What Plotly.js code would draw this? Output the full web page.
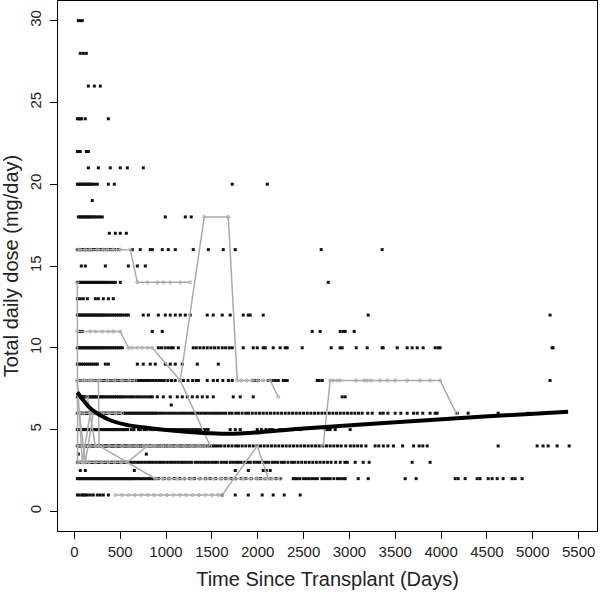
<!DOCTYPE html>
<html><head><meta charset="utf-8">
<script src="https://cdn.plot.ly/plotly-3.0.1.min.js"></script>
<style>html,body{margin:0;padding:0;background:#fff}#chart{width:600px;height:592px}</style>
</head><body><div id="chart"></div>
<script>
// ---- observed doses (x = days since transplant) per dose level ----
const dose1Days = [33,55,87,98,120,142,174,207,251,283,316,371,1613,1755,1897,2049,2169,2289,2463];
const dose2Days = [33,50,65,80,95,110,125,140,155,170,185,200,215,230,245,260,275,290,305,320,335,350,365,380,395,410,425,440,455,470,485,500,515,530,545,560,575,590,605,620,640,660,680,700,720,740,760,780,800,820,840,860,883,920,980,1030,1090,1150,1200,1260,1310,1370,1430,1480,1540,1600,1650,1710,1760,1820,1870,1930,1990,2030,2080,2140,2200,2250,2387,2410,2430,2460,2500,2530,2560,2590,2620,2650,2700,2730,2760,2790,2830,2870,2900,2930,2954,3096,3205,3608,3728,4153,4186,4262,4393,4425,4513,4556,4611,4676,4774,4807,4883];
const dose25Days = [65,120,654,1755,1897,2060,2093,2136];
const dose3Days = [33,55,76,98,120,142,163,185,207,229,251,273,295,316,338,360,382,404,425,447,469,490,512,534,556,578,600,620,650,680,710,740,770,800,830,860,890,920,950,980,1010,1040,1070,1100,1130,1160,1190,1220,1250,1280,1320,1350,1380,1410,1440,1470,1500,1530,1560,1600,1630,1660,1700,1730,1760,1790,1820,1860,1890,1920,1960,1990,2020,2060,2090,2120,2160,2190,2220,2260,2290,2330,2370,2400,2440,2480,2520,2560,2600,2640,2680,2720,2760,2800,2850,2900,2950,2976,3063,3150,3215,3684,3880];
const dose35Days = [44,785];
const dose4Days = [33,50,65,80,95,110,125,140,155,170,185,200,215,230,245,260,275,290,305,320,335,350,365,380,395,410,425,440,455,470,485,500,520,540,560,580,600,620,640,660,680,700,720,740,760,780,800,820,840,860,880,900,925,950,975,1000,1025,1050,1075,1100,1125,1150,1175,1200,1225,1250,1275,1300,1330,1360,1390,1420,1450,1480,1510,1540,1570,1600,1640,1680,1720,1760,1790,1830,1870,1910,1950,1990,2030,2070,2110,2150,2190,2230,2270,2310,2350,2390,2430,2470,2510,2550,2590,2630,2670,2710,2750,2790,2830,2870,2910,2960,3010,3050,3090,3130,3180,3280,3320,3370,3420,3480,3580,3700,3760,3800,3848,4622,5047,5112,5167,5265,5396];
const dose5Days = [33,50,65,80,95,110,125,140,155,170,185,200,215,230,245,260,275,290,305,320,335,350,365,380,395,410,425,440,455,470,485,500,515,530,545,560,580,620,650,700,720,760,790,830,860,890,920,950,980,1010,1040,1070,1100,1130,1160,1190,1220,1250,1280,1310,1340,1370,1400,1430,1460,1700,1755,1809,1995,2040,2090,2130,2158,2245,2300,2380,2463,2736,2760,2790,2845,3008];
const dose6Days = [33,50,65,80,95,110,125,140,155,170,185,200,215,230,245,260,275,290,305,320,335,350,365,380,395,410,425,440,455,470,485,500,520,540,560,580,600,620,640,660,680,700,720,740,760,780,800,820,840,860,880,900,930,960,990,1020,1050,1080,1110,1140,1170,1200,1230,1260,1290,1320,1350,1380,1410,1440,1470,1500,1530,1560,1590,1620,1650,1690,1720,1760,1790,1830,1870,1900,1940,1980,2020,2060,2100,2140,2180,2220,2260,2300,2340,2380,2420,2460,2500,2540,2580,2620,2660,2700,2740,2780,2820,2860,2900,2940,2980,3020,3060,3100,3139,3200,3248,3335,3368,3420,3499,3560,3630,3700,3740,3800,3880,3935,3957,4175,4295,4622,4949];
const dose65Days = [1057];
const dose7Days = [33,50,65,80,95,110,125,140,155,170,185,200,215,230,245,260,275,290,305,320,340,360,380,400,420,440,460,480,500,520,545,570,600,625,650,680,710,740,770,800,830,850,905,970,1046,1123,1177,1232,1286,1341,1395,1450,1515,1733,1809,1951,2921,2954];
const dose8Days = [33,50,65,80,95,110,125,140,155,170,185,200,215,230,245,260,275,290,305,320,340,360,380,400,420,440,460,480,500,520,540,560,580,600,620,640,660,680,700,720,740,760,780,800,830,860,890,920,950,980,1020,1060,1100,1150,1190,1240,1290,1330,1353,1450,1515,1560,1620,1680,1722,1951,1973,2006,2115,2136,2158,2191,2224,2278,2300,2322,2649,2670,2703,5188];
const dose9Days = [33,55,76,98,120,142,163,185,207,229,251,338,371,687,752,828,883,992,1046,1101,1177,1341,1570];
const dose10Days = [33,50,65,80,95,110,125,140,155,170,185,200,215,230,245,260,275,290,305,320,340,360,380,400,420,440,460,480,500,523,916,950,990,1025,1057,1079,1134,1297,1330,1370,1410,1450,1490,1530,1570,1613,1650,1690,1722,1842,1951,1995,2060,2082,2169,2245,2300,2322,2485,2801,2899,2921,3074,3194,3357,3368,3521,3630,3684,3739,3804,3935,3968,3989,5210,5221];
const dose11Days = [44,65,87,850,959,2594,2681,2899,2932,2954,3052];
const dose12Days = [33,50,65,80,95,110,125,140,155,170,185,200,215,230,245,260,275,290,305,320,340,360,380,400,420,440,460,480,500,520,545,570,589,752,807,916,992,1046,1101,1155,1210,1264,1450,1515,1613,1700,1842,1897,1918,2060,3205,5188];
const dose13Days = [33,65,98,142,229,262,316,371,425];
const dose14Days = [33,50,65,80,95,110,125,140,155,170,185,200,215,230,245,260,275,290,305,320,340,360,380,400,425,447,501,2769];
const dose15Days = [76,120,338,589,687,774];
const dose16Days = [33,50,65,80,100,120,140,160,180,200,230,260,290,320,350,380,410,440,480,632,719,828,850,959,1025,1101,1297,1461,1624,1755,2692,3357];
const dose17Days = [382,447,501,567];
const dose18Days = [44,60,76,90,105,120,135,150,165,180,200,220,240,262,283,305,992,1210,1275];
const dose19Days = [196];
const dose20Days = [33,48,62,76,90,105,120,135,150,165,180,196,220,251,371,436,1722,2104];
const dose21Days = [153,262,392,501,578,752];
const dose22Days = [33,50,65,131,153];
const dose24Days = [33,50,65,80,120,371];
const dose26Days = [153,218,283];
const dose28Days = [65,98,131];
const dose30Days = [44,65,87];

const doseLevels = [1,2,2.5,3,3.5,4,5,6,6.5,7,8,9,10,11,12,13,14,15,16,17,18,19,20,21,22,24,26,28,30];
const daysByLevel = [dose1Days,dose2Days,dose25Days,dose3Days,dose35Days,dose4Days,dose5Days,dose6Days,dose65Days,dose7Days,dose8Days,dose9Days,dose10Days,dose11Days,dose12Days,dose13Days,dose14Days,dose15Days,dose16Days,dose17Days,dose18Days,dose19Days,dose20Days,dose21Days,dose22Days,dose24Days,dose26Days,dose28Days,dose30Days];

// ---- individual patient trajectories (grey) ----
const traj1Days = [33,65,120,174,251,316,360,425,501,610,687,796,905,970,1046,1155,1264];
const traj1Dose = [16,16,16,16,16,16,16,16,16,16,14,14,14,14,14,14,14];
const traj2Days = [33,174,229,305,371,425,501,589,632,687,740,800,850,1155,1482];
const traj2Dose = [11,11,11,11,11,11,11,10,10,10,10,10,10,8,4];
const traj3Days = [1155,1417,1679,1777,1820,1880,1940,2000,2060,2136,2224];
const traj3Dose = [8,18,18,8,8,8,8,8,8,8,7];
const traj4Days = [2714,2790,2823,2867,2899,3074,3160,3194,3237,3335,3412,3499,3630,3771,3880,3989,4164];
const traj4Dose = [4,8,8,8,8,8,8,8,8,8,8,8,8,8,8,8,6];
const traj5Days = [447,520,590,660,730,800,870,940,1010,1080,1150,1220,1290,1360,1430,1500,1570,1613,1995,2115];
const traj5Dose = [1,1,1,1,1,1,1,1,1,1,1,1,1,1,1,1,1,1,4,2];
const traj6Days = [33,100,170,262,270,883,960,1040,1120,1200,1280,1360,1440,1520,1600,1680,1755,1840,1920,2000,2080,2160,2245];
const traj6Dose = [8,8,8,8,4,2,2,2,2,2,2,2,2,2,2,2,2,2,2,2,2,2,2];
const traj7Days = [44,100,160,230,300,370,440,510,578,796,880,960,1040,1120,1200,1280,1360,1440];
const traj7Dose = [3,3,3,3,3,3,3,3,3,4,4,4,4,4,4,4,4,4];
const traj8Days = [33,36];
const traj8Dose = [14,3];
const traj9Days = [33,87];
const traj9Dose = [8,3];
const traj10Days = [87,174];
const traj10Dose = [3,6];
const traj11Days = [55,120,207];
const traj11Dose = [6,3,6];
const traj12Days = [142,229];
const traj12Dose = [7,4];
const traj13Days = [33,120,200,280,360,440,520,600,665];
const traj13Dose = [8,8,8,8,8,8,8,8,8];
const traj14Days = [33,100,170,240,310,380,450,520];
const traj14Dose = [6,6,6,6,6,6,6,6];
const traj15Days = [33,100,170,240,310,380,450,520,600,680,760,850];
const traj15Dose = [4,4,4,4,4,4,4,4,4,4,4,4];

const trajectories = [
  [traj1Days,traj1Dose],[traj2Days,traj2Dose],[traj3Days,traj3Dose],[traj4Days,traj4Dose],
  [traj5Days,traj5Dose],[traj6Days,traj6Dose],[traj7Days,traj7Dose],[traj8Days,traj8Dose],
  [traj9Days,traj9Dose],[traj10Days,traj10Dose],[traj11Days,traj11Dose],[traj12Days,traj12Dose],
  [traj13Days,traj13Dose],[traj14Days,traj14Dose],[traj15Days,traj15Dose]
];

// ---- smoothed mean curve ----
const smoothDays = [33,98,153,229,283,392,556,828,1155,1482,1755,2027,2463,3335,4425,5385];
const smoothDose = [7.28,6.79,6.42,6.06,5.88,5.57,5.30,5.08,4.90,4.78,4.75,4.84,5.05,5.39,5.78,6.09];

const xTicks = [0,500,1000,1500,2000,2500,3000,3500,4000,4500,5000,5500];
const yTicks = [0,5,10,15,20,25,30];

// build point trace
const px = [], py = [];
daysByLevel.forEach((arr, i) => { arr.forEach(d => { px.push(d); py.push(doseLevels[i]); }); });

const traces = [];
traces.push({
  x: px, y: py, type: 'scatter', mode: 'markers', hoverinfo: 'skip',
  marker: {symbol: 'square', size: 3, color: '#111', line: {width: 0}}
});
trajectories.forEach(t => {
  traces.push({
    x: t[0], y: t[1], type: 'scatter', mode: 'lines+markers', hoverinfo: 'skip',
    line: {color: '#aaaaaa', width: 1.5},
    marker: {symbol: 'circle-open', size: 3, color: '#aaaaaa', line: {width: 1, color: '#aaaaaa'}}
  });
});
traces.push({
  x: smoothDays, y: smoothDose, type: 'scatter', mode: 'lines', hoverinfo: 'skip',
  line: {color: '#000', width: 4, shape: 'spline', smoothing: 1}
});

const fontFam = 'Liberation Sans, Arial, Helvetica, sans-serif';
const layout = {
  width: 600, height: 592,
  margin: {l: 58, r: 3, t: 1, b: 61},
  paper_bgcolor: '#fff', plot_bgcolor: '#fff',
  showlegend: false,
  font: {family: fontFam, color: '#222'},
  xaxis: {
    range: [-178, 5700], tickvals: xTicks, ticktext: xTicks.map(String),
    ticks: 'outside', ticklen: 7, tickwidth: 1, tickcolor: '#000',
    showline: true, mirror: true, linecolor: '#000', linewidth: 1,
    showgrid: false, zeroline: false,
    tickfont: {family: fontFam, size: 15, color: '#222'},
    title: {text: 'Time Since Transplant (Days)', font: {family: fontFam, size: 20, color: '#222'}, standoff: 12}
  },
  yaxis: {
    range: [-1.2, 31.2], tickvals: yTicks, ticktext: yTicks.map(String),
    tickangle: -90,
    ticks: 'outside', ticklen: 7, tickwidth: 1, tickcolor: '#000',
    showline: true, mirror: true, linecolor: '#000', linewidth: 1,
    showgrid: false, zeroline: false, ticklabelstandoff: 3,
    tickfont: {family: fontFam, size: 15, color: '#222'},
    title: {text: 'Total daily dose (mg/day)', font: {family: fontFam, size: 20, color: '#222'}, standoff: 12}
  }
};
Plotly.newPlot('chart', traces, layout, {staticPlot: true, displayModeBar: false});
</script>
</body></html>
